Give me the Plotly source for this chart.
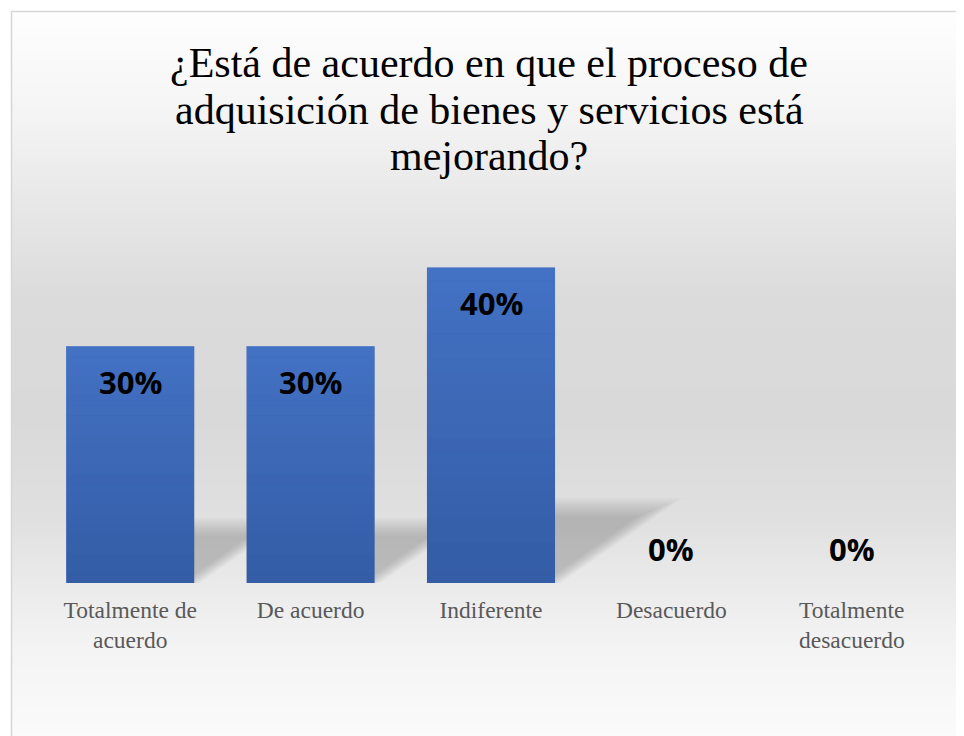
import numpy as np
import plotly.graph_objects as go

# ---------------- data ----------------
categories = ["Totalmente de<br>acuerdo", "De acuerdo", "Indiferente",
              "Desacuerdo", "Totalmente<br>desacuerdo"]
values = [0.30, 0.30, 0.40, 0.00, 0.00]
value_labels = ["30%", "30%", "40%", "0%", "0%"]
title_lines = ["¿Está de acuerdo en que el proceso de",
               "adquisición de bienes y servicios está",
               "mejorando?"]

# ---------------- layout geometry ----------------
OFF = 8                      # page body margin in the browser
W, H = 956, 728
L, R, T, B = 32, 22, 220, 153
PW, PH = W - L - R, H - T - B
YMAX = 0.45
BARGAP = 0.29


def pxx(px):
    """screen pixel x -> paper coordinate"""
    return (px - OFF - L) / PW


def pxy(py):
    """screen pixel y -> paper coordinate"""
    return (H - B - (py - OFF)) / PH


shapes = []

# background vertical gradient (white -> grey -> white)
stops_y = [11, 100, 200, 300, 420, 520, 583, 650, 740]
stops_g = [254, 246, 232, 219, 217, 224, 234, 244, 251]
for y0 in range(11, 740, 3):
    g = int(round(np.interp(y0 + 1.5, stops_y, stops_g)))
    shapes.append(dict(type="rect", xref="paper", yref="paper", layer="below",
                       x0=pxx(11), x1=pxx(990), y0=pxy(y0), y1=pxy(y0 + 3.2),
                       fillcolor=f"rgb({g},{g},{g})", line=dict(width=0)))

# chart border
shapes.append(dict(type="rect", xref="paper", yref="paper", layer="below",
                   x0=pxx(11.5), x1=pxx(1000), y0=pxy(11.5), y1=pxy(800),
                   fillcolor="rgba(0,0,0,0)", line=dict(color="#d6d6d6", width=1.5)))

# perspective shadows behind bars (soft, layered)
cx = 5.0 / PW
cy = YMAX / PH
hw = (1 - BARGAP) / 2
for i, v in enumerate(values):
    if v <= 0:
        continue
    h = 0.25 * v
    dx = 1.43 * (h / cy) * cx
    for d in range(-6, 14, 2):
        top = h - d * cy
        xrb = i + hw - d * cx
        xrt = xrb + dx * (top / h)
        xlt = i - hw + dx * (top / h)
        path = f"M {i - hw},0 L {xrb},0 L {xrt},{top} L {xlt},{top} Z"
        shapes.append(dict(type="path", xref="x", yref="y", layer="below",
                           path=path, fillcolor="rgba(0,0,0,0.021)",
                           line=dict(width=0)))

# subtle vertical gradient sheen on each bar (lighter at top)
NSTRIP = 24
for i, v in enumerate(values):
    if v <= 0:
        continue
    for k in range(NSTRIP):
        y0 = v * k / NSTRIP
        y1 = v * (k + 1) / NSTRIP
        a = 0.35 * (k + 0.5) / NSTRIP
        shapes.append(dict(type="rect", xref="x", yref="y", layer="above",
                           x0=i - hw, x1=i + hw, y0=y0, y1=y1,
                           fillcolor=f"rgba(98,153,252,{a:.3f})",
                           line=dict(width=0)))

annotations = []
title_centers = [63, 110, 156]
for line, yc in zip(title_lines, title_centers):
    annotations.append(dict(text=line, xref="paper", yref="paper",
                            x=pxx(489), y=pxy(yc), xanchor="center", yanchor="middle",
                            showarrow=False,
                            font=dict(family="Liberation Serif, Times New Roman, serif",
                                      size=42, color="#000000")))

for i, (v, lab) in enumerate(zip(values, value_labels)):
    annotations.append(dict(text=f"<b>{lab}</b>", x=i, y=v, xref="x", yref="y",
                            showarrow=False, xanchor="center", yanchor="middle",
                            yshift=(-36 if v > 0 else 34),
                            font=dict(family="Open Sans, sans-serif",
                                      size=31, color="#000000", weight=700)))

fig = go.Figure(go.Bar(
    x=list(range(len(categories))), y=values,
    marker=dict(color="#345da6", line=dict(width=0)),
    hoverinfo="skip",
))

fig.update_layout(
    width=W, height=H,
    margin=dict(l=L, r=R, t=T, b=B, pad=0),
    paper_bgcolor="#ffffff", plot_bgcolor="rgba(0,0,0,0)",
    bargap=BARGAP, showlegend=False,
    shapes=shapes, annotations=annotations,
    xaxis=dict(range=[-0.5, len(categories) - 0.5], tickmode="array",
               tickvals=list(range(len(categories))), ticktext=categories,
               showgrid=False, zeroline=False, showline=False, ticks="",
               ticklabelstandoff=10,
               tickfont=dict(family="Liberation Serif, Times New Roman, serif",
                             size=23.5, color="#595959")),
    yaxis=dict(range=[0, YMAX], visible=False, showgrid=False, zeroline=False),
)

fig.write_html("out.html")
